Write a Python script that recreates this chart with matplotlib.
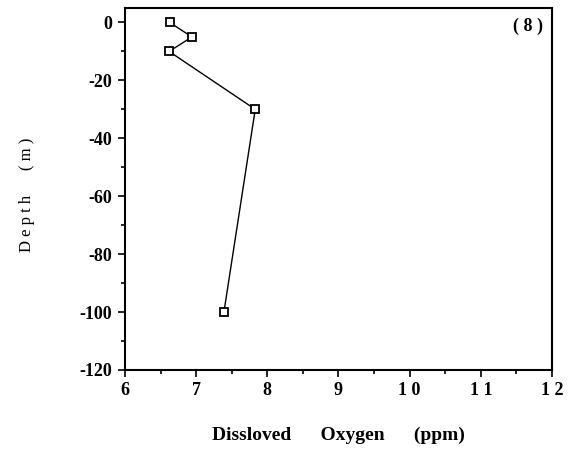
import matplotlib.pyplot as plt
from matplotlib.ticker import MultipleLocator, FixedLocator

# dissolved oxygen profile, station 8
oxygen = [6.63, 6.94, 6.62, 7.83, 7.39]
depth = [0, -5, -10, -30, -100]
xticks = [6, 7, 8, 9, 10, 11, 12]
yticks = [0, -20, -40, -60, -80, -100, -120]

plt.rcParams['font.family'] = ['Liberation Serif', 'DejaVu Serif']
plt.rcParams['font.weight'] = 'bold'

fig = plt.figure(figsize=(5.75, 4.51), dpi=100)
ax = fig.add_axes([125/575, 1-370/451, 427/575, 362/451])

ax.plot(oxygen, depth, "-", color="black", linewidth=1.0,
        marker="s", markersize=6, markerfacecolor="white",
        markeredgecolor="black", markeredgewidth=1.3)

ax.set_xlim(6, 12)
ax.set_ylim(-120, 5)
ax.xaxis.set_major_locator(FixedLocator(xticks))
ax.yaxis.set_major_locator(FixedLocator(yticks))
ax.xaxis.set_minor_locator(MultipleLocator(0.5))
ax.yaxis.set_minor_locator(MultipleLocator(10))
ax.set_xticklabels([" ".join(str(v)) for v in xticks])
ax.set_yticklabels([str(v) for v in yticks])

ax.tick_params(which="both", direction="out", width=1.2, labelsize=13)
ax.tick_params(which="major", length=5)
ax.tick_params(which="minor", length=3)
ax.tick_params(axis="y", pad=4)
for s in ax.spines.values():
    s.set_linewidth(1.5)

ax.set_xlabel("Dissloved      Oxygen      (ppm)", fontsize=14,
              fontweight="bold", labelpad=20)
ax.set_ylabel("D e p t h      ( m )", fontsize=12, fontweight="normal")
ax.yaxis.set_label_coords(-90/427, 0.485)
ax.text(0.98, 0.948, "( 8 )", transform=ax.transAxes, ha="right", va="center",
        fontsize=13, fontweight="bold")

plt.savefig("out.png", dpi=100)
